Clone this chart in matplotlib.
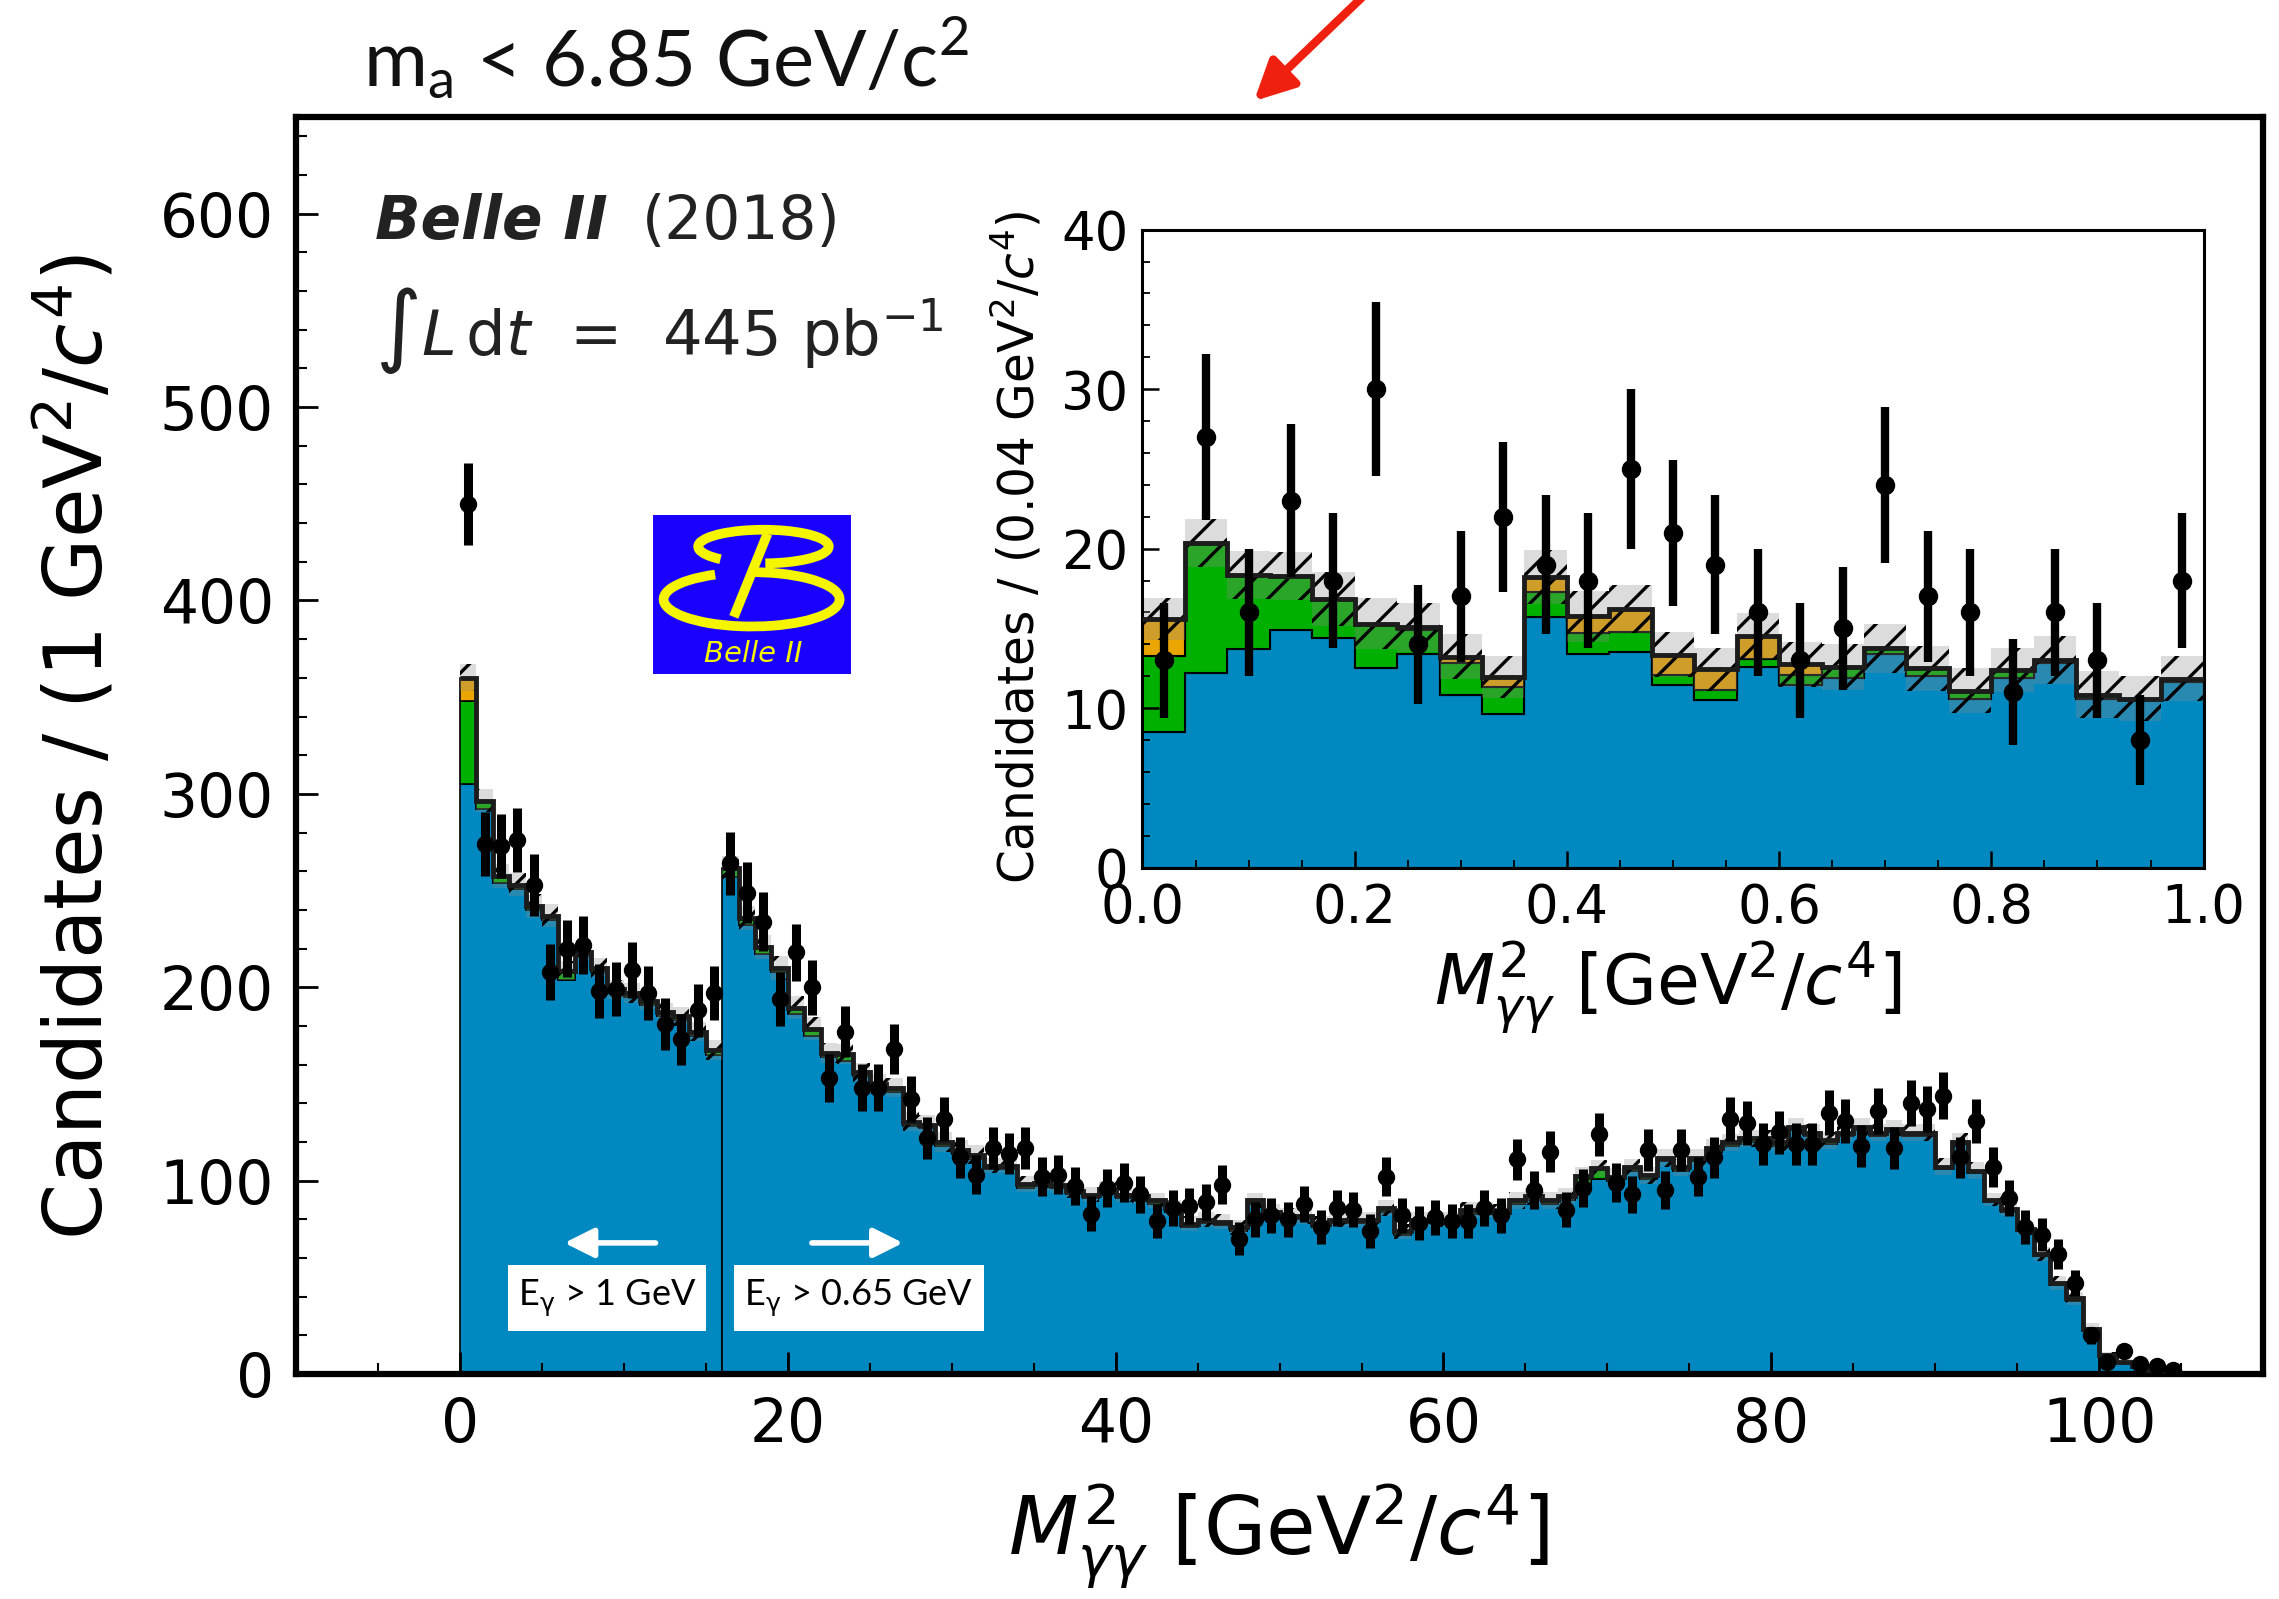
import numpy as np
import matplotlib.pyplot as plt
from matplotlib.patches import Rectangle, Arc, FancyArrowPatch
from matplotlib.ticker import MultipleLocator

plt.rcParams['font.family'] = 'DejaVu Sans'
plt.rcParams['hatch.linewidth'] = 2.4

# main histogram: 1 GeV^2/c^4 bins from 0 to 105
main_edges = np.arange(0, 106)
main_blue = [305, 292, 254, 251, 240, 235, 204, 216, 208, 197,
             195, 191, 185, 183, 175, 165, 257, 232, 217, 208,
             186, 175, 164, 162, 154, 148, 146, 128, 127, 118,
             114, 111, 106, 106, 96, 97, 96, 93, 91, 94,
             91, 90, 88, 84, 76, 78, 77, 74, 88, 82,
             80, 80, 76, 78, 78, 78, 84, 72, 78, 78,
             78, 83, 83, 82, 88, 90, 88, 90, 98, 101,
             100, 105, 101, 110, 105, 110, 115, 118, 120, 120,
             118, 126, 123, 119, 123, 126, 123, 125, 123, 123,
             106, 119, 104, 89, 84, 74, 61, 46, 38, 22,
             9.5, 5.8, 3.8, 1.9, 1.0]
main_green = [43, 4, 3, 1.5, 1.5, 1.5, 4, 1.5, 1.5, 1.5,
              1.5, 1.5, 1.5, 1.5, 1.5, 2, 4, 3, 3, 1.5,
              3, 3, 1.5, 3, 1.5, 1.5, 1.5, 2, 1.5, 1.5,
              1.5, 2, 1.5, 1.5, 2, 1.5, 1.5, 1.5, 1.5, 1.5,
              1.5, 1.5, 1.5, 1.5, 1.5, 1.5, 1.5, 1.5, 1.5, 1.5,
              1.5, 1.5, 1.5, 1.5, 1.5, 1.5, 1.5, 1.5, 1.5, 1.5,
              1.5, 1.5, 1.5, 1.5, 1.5, 1.5, 1.5, 1.5, 4, 5,
              1.5, 1.5, 1.5, 1.5, 1.5, 1.5, 1.5, 1.5, 1.5, 1.5,
              1.5, 1.5, 1.5, 1.5, 1.5, 1.5, 1.5, 1.5, 1.5, 1.5,
              1, 1, 1, 1, 1, 1, 1, 1, 1, 1,
              0.3, 0.3, 0.2, 0.1, 0.1]
main_orange = [12, 0.5, 0.5, 0.5, 0.5, 0.5, 0.5, 0.5, 0.5, 0.5,
               0.5, 0.5, 0.5, 0.5, 0.5, 0.5, 0.8, 0.8, 0.8, 0.5,
               0.5, 0.5, 0.5, 0.5, 0.5, 0.5, 0.5, 0.5, 0.5, 0.5,
               0.5, 0.5, 0.3, 0.3, 0.3, 0.3, 0.3, 0.3, 0.3, 0.3,
               0.3, 0.3, 0.3, 0.3, 0.3, 0.3, 0.3, 0.3, 0.3, 0.3,
               0.3, 0.3, 0.3, 0.3, 0.3, 0.3, 0.3, 0.3, 0.3, 0.3,
               0.3, 0.3, 0.3, 0.3, 0.3, 0.3, 0.3, 0.3, 0.3, 0.3,
               0.3, 0.3, 0.3, 0.3, 0.3, 0.3, 0.3, 0.3, 0.3, 0.3,
               0.3, 0.3, 0.3, 0.3, 0.3, 0.3, 0.3, 0.3, 0.3, 0.3,
               0.2, 0.2, 0.2, 0.2, 0.2, 0.2, 0.1, 0.1, 0.1, 0.1,
               0, 0, 0, 0, 0]
main_unc = [7, 6, 6, 6, 6, 6, 5, 5, 5, 5,
            5, 5, 5, 5, 5, 5, 6, 6, 6, 6,
            6, 6, 5, 5, 5, 5, 5, 5, 5, 5,
            5, 5, 4, 4, 4, 4, 4, 4, 4, 4,
            4, 4, 4, 4, 4, 4, 4, 4, 4, 4,
            4, 4, 4, 4, 4, 4, 4, 4, 4, 4,
            4, 4, 4, 4, 4.5, 4.5, 4.5, 4.5, 4.5, 4.5,
            4.5, 4.5, 4.5, 4.5, 4.5, 4.5, 4.5, 4.5, 4.5, 4.5,
            4.5, 4.5, 4.5, 4.5, 4.5, 4.5, 4.5, 4.5, 4.5, 4.5,
            4.5, 4.5, 4.5, 3.5, 3.5, 3.5, 3.5, 3.5, 3.5, 3.5,
            1.5, 1.5, 1.5, 1.5, 1.5]
main_data = [450, 274, 273, 276, 253, 208, 220, 222, 198, 199,
             209, 197, 181, 173, 188, 197, 264, 249, 234, 194,
             218, 200, 153, 177, 148, 148, 168, 142, 122, 132,
             112, 103, 117, 114, 117, 102, 103, 97, 83, 96,
             99, 93, 79, 86, 87, 89, 98, 70, 80, 82,
             80, 88, 76, 86, 85, 74, 102, 82, 78, 81,
             79, 79, 86, 82, 111, 95, 115, 85, 96, 124,
             99, 93, 116, 95, 116, 102, 112, 132, 130, 119,
             125, 119, 119, 135, 131, 118, 136, 117, 140, 137,
             144, 112, 131, 107, 91, 76, 72, 62, 47, 20,
             6, 12, 5, 4, 2]

# inset: 0.04 GeV^2/c^4 bins from 0 to 1
inset_edges = np.linspace(0, 1, 26)
inset_blue = [8.5, 12.2, 13.7, 14.9, 14.4, 12.5, 13.4, 10.8, 9.6, 15.7,
              13.4, 13.5, 11.45, 10.5, 12.6, 11.45, 11.9, 13.4, 12.0, 10.6,
              11.9, 12.8, 10.6, 10.55, 11.65]
inset_green = [4.75, 8.15, 4.65, 3.4, 2.45, 2.8, 1.5, 2.05, 1.75, 1.55,
               1.3, 1.3, 0.6, 0.65, 0.45, 0.65, 0.7, 0.35, 0.5, 0.5,
               0.5, 0.2, 0.25, 0.05, 0.2]
inset_orange = [2.35, 0, 0, 0, 0, 0, 0.17, 0.38, 0.6, 0.95,
                1.05, 1.4, 1.3, 1.3, 1.45, 0.65, 0, 0, 0, 0,
                0, 0, 0, 0, 0]
inset_unc = [1.3, 1.5, 1.5, 1.5, 1.7, 1.6, 1.55, 1.4, 1.3, 1.7,
             1.6, 1.5, 1.4, 1.35, 1.45, 1.4, 1.45, 1.55, 1.4, 1.4,
             1.4, 1.5, 1.45, 1.4, 1.4]
inset_data = [13, 27, 16, 23, 18, 30, 14, 17, 22, 19, 18, 25, 21, 19, 16,
              13, 15, 24, 17, 16, 11, 16, 13, 8, 18]

colors = ['#0088c0', '#00b000', '#eba500']


def draw_stack(ax, edges, layers, unc, pieces, lw):
    for a, b in pieces:
        e = edges[a:b + 1]
        bottom = np.zeros(b - a)
        for vals, c in zip(layers, colors):
            top = bottom + np.asarray(vals[a:b], float)
            ax.stairs(top, e, baseline=bottom, fill=True, facecolor=c,
                      edgecolor='k', lw=lw, zorder=1)
            bottom = top
        u = np.asarray(unc[a:b], float)
        ax.stairs(bottom + u, e, baseline=bottom - u, fill=True,
                  facecolor=(0.55, 0.55, 0.55, 0.3), edgecolor='k',
                  hatch='/', lw=0, zorder=2)
        ax.stairs(bottom, e, baseline=None, color='#1c1c1c', lw=3.5, zorder=3)


fig = plt.figure(figsize=(22.79, 15.99), dpi=100)

# ---- main axes
ax = fig.add_axes([0.1299, 0.1407, 0.8631, 0.7861])
draw_stack(ax, main_edges, [main_blue, main_green, main_orange], main_unc,
           [(0, 16), (16, 105)], lw=1.2)
centers = 0.5 * (main_edges[1:] + main_edges[:-1])
ax.errorbar(centers, main_data, yerr=np.sqrt(main_data), fmt='o', color='k',
            ms=11.5, elinewidth=6.5, capsize=0, zorder=5)
ax.set_xlim(-10, 110)
ax.set_ylim(0, 650)
ax.xaxis.set_major_locator(MultipleLocator(20))
ax.xaxis.set_minor_locator(MultipleLocator(5))
ax.yaxis.set_major_locator(MultipleLocator(100))
ax.yaxis.set_minor_locator(MultipleLocator(20))
ax.tick_params(which='both', direction='in', top=False, right=False)
ax.tick_params(which='major', length=16, width=2, labelsize=43, pad=16)
ax.tick_params(which='minor', length=8, width=1.5)
for s in ax.spines.values():
    s.set_linewidth(4.5)

fig.text(0.0332, 0.533, r'Candidates / (1 GeV$^2$/$c^4$)', rotation=90,
         ha='center', va='center', fontsize=58)
fig.text(0.5608, 0.0394, r'$M^2_{\gamma\gamma}$ [GeV$^2$/$c^4$]',
         ha='center', va='center', fontsize=58)

# Belle II labels
fig.text(0.1645, 0.861, 'Belle II', fontsize=43, weight='bold', style='italic',
         color='#222222', va='center')
fig.text(0.2817, 0.861, '(2018)', fontsize=43, color='#222222', va='center')
fig.text(0.1645, 0.793, r'$\int L\,\mathrm{d}t$  =  445 pb$^{-1}$', fontsize=45,
         color='#222222', va='center')

# E_gamma boxes and arrows
for x0, x1, label in [(2.93, 15.0, r'E$_{\mathrm{\gamma}}$ > 1 GeV'),
                      (16.7, 31.97, r'E$_{\mathrm{\gamma}}$ > 0.65 GeV')]:
    ax.add_patch(Rectangle((x0, 22.2), x1 - x0, 34.2, facecolor='white',
                           edgecolor='none', zorder=6))
    ax.text(0.5 * (x0 + x1), 39.3, label, ha='center', va='center',
            fontsize=26, family=['Lato', 'DejaVu Sans'], zorder=7)
ax.annotate('', xy=(6.2, 67.8), xytext=(12.1, 67.8),
            arrowprops=dict(arrowstyle='-|>', lw=4, color='white',
                            mutation_scale=45), zorder=7)
ax.annotate('', xy=(27.2, 67.8), xytext=(21.3, 67.8),
            arrowprops=dict(arrowstyle='-|>', lw=4, color='white',
                            mutation_scale=45), zorder=7)

# Belle II logo
logo = fig.add_axes([0.2864, 0.5782, 0.0868, 0.1000])
logo.set_facecolor('#1a00ff')
logo.set_xlim(0, 1)
logo.set_ylim(0, 1)
logo.set_xticks([])
logo.set_yticks([])
for s in logo.spines.values():
    s.set_visible(False)
yel = '#f5f500'
logo.add_patch(Arc((0.50, 0.47), 0.89, 0.34, theta1=140, theta2=455,
                   color=yel, lw=7))
logo.add_patch(Arc((0.56, 0.80), 0.66, 0.21, theta1=275, theta2=560,
                   color=yel, lw=7))
logo.plot([0.58, 0.41], [0.88, 0.36], color=yel, lw=7, solid_capstyle='butt')
logo.text(0.51, 0.13, 'Belle II', color=yel, fontsize=21, style='italic',
          ha='center', va='center')

# ---- inset axes
axi = fig.add_axes([0.5013, 0.4574, 0.4656, 0.3990])
draw_stack(axi, inset_edges, [inset_blue, inset_green, inset_orange],
           inset_unc, [(0, 25)], lw=1.5)
icenters = 0.5 * (inset_edges[1:] + inset_edges[:-1])
axi.errorbar(icenters, inset_data, yerr=np.sqrt(inset_data), fmt='o',
             color='k', ms=13, elinewidth=6, capsize=0, zorder=5)
axi.set_xlim(0, 1)
axi.set_ylim(0, 40)
axi.xaxis.set_major_locator(MultipleLocator(0.2))
axi.xaxis.set_minor_locator(MultipleLocator(0.05))
axi.yaxis.set_major_locator(MultipleLocator(10))
axi.yaxis.set_minor_locator(MultipleLocator(2))
axi.tick_params(which='both', direction='in', top=False, right=False)
axi.tick_params(which='major', length=12, width=1.8, labelsize=38, pad=10)
axi.tick_params(which='minor', length=6, width=1.3)
for s in axi.spines.values():
    s.set_linewidth(2.2)
fig.text(0.4464, 0.658, r'Candidates / (0.04 GeV$^2$/$c^4$)', rotation=90,
         ha='center', va='center', fontsize=35)
fig.text(0.7319, 0.382, r'$M^2_{\gamma\gamma}$ [GeV$^2$/$c^4$]',
         ha='center', va='center', fontsize=50)

# title and red arrow
fig.text(0.1593, 0.9637, r'm$_\mathregular{a}$ < 6.85 GeV/c$^\mathregular{2}$',
         fontsize=56, family='Lato', va='center', color='#111111')
fig.add_artist(FancyArrowPatch((1366 / 2279, 1.004), (1252 / 2279, 1 - 103 / 1599),
                               transform=fig.transFigure, arrowstyle='-|>',
                               mutation_scale=60, lw=6, color='#f02010'))

fig.savefig('out.png', dpi=100)
